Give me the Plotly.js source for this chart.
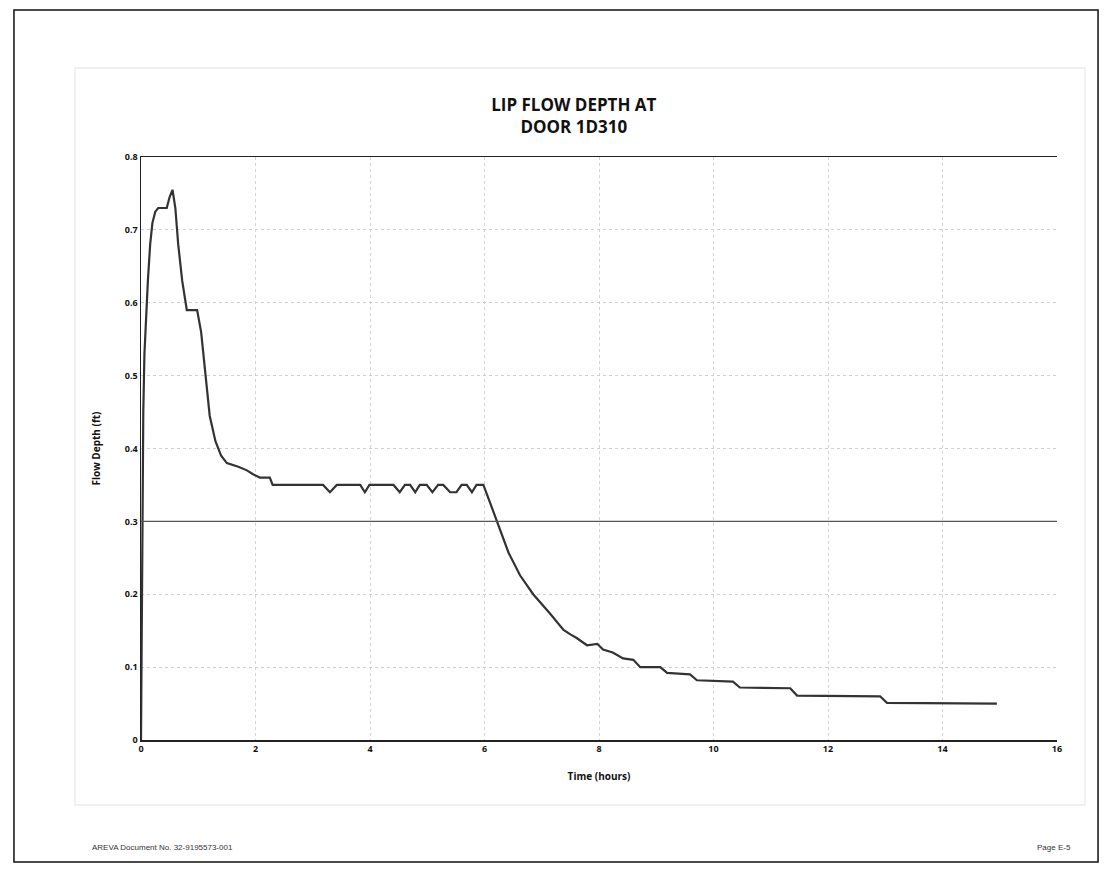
<!DOCTYPE html>
<html>
<head>
<meta charset="utf-8">
<script src="https://cdn.plot.ly/plotly-3.0.1.min.js"></script>
<style>
  html, body { margin: 0; padding: 0; background: #fff; }
  #chart { width: 1112px; height: 872px; }
</style>
</head>
<body>
<div id="chart"></div>
<script>
// Time (hours)
const timeHours = [
  0, 0.02, 0.04, 0.06, 0.09, 0.12, 0.16, 0.2, 0.25, 0.3, 0.45, 0.5, 0.55, 0.6, 0.65, 0.72, 0.8, 0.98,
  1.05, 1.1, 1.15, 1.2, 1.3, 1.4, 1.5, 1.7, 1.85, 1.95, 2.08, 2.25, 2.3,
  3.18, 3.3, 3.42, 3.83, 3.91, 3.99, 4.41, 4.52, 4.61, 4.7, 4.79, 4.87, 4.99, 5.09, 5.19, 5.28, 5.4, 5.51, 5.6, 5.69, 5.78, 5.86, 5.98,
  6.1, 6.22, 6.42, 6.62, 6.85, 7.14, 7.38, 7.5, 7.61, 7.79, 7.97, 8.07, 8.24, 8.42, 8.6, 8.72, 9.07, 9.19, 9.59, 9.71,
  10.34, 10.46, 11.34, 11.46, 12.91, 13.03, 14.95
];
// Flow depth (ft)
const flowDepthFt = [
  0, 0.3, 0.45, 0.53, 0.59, 0.63, 0.68, 0.71, 0.725, 0.73, 0.73, 0.745, 0.755, 0.73, 0.68, 0.63, 0.59, 0.59,
  0.56, 0.52, 0.48, 0.445, 0.41, 0.39, 0.38, 0.375, 0.37, 0.365, 0.36, 0.36, 0.35,
  0.35, 0.34, 0.35, 0.35, 0.34, 0.35, 0.35, 0.34, 0.35, 0.35, 0.34, 0.35, 0.35, 0.34, 0.35, 0.35, 0.34, 0.34, 0.35, 0.35, 0.34, 0.35, 0.35,
  0.325, 0.30, 0.257, 0.226, 0.20, 0.174, 0.151, 0.145, 0.14, 0.13, 0.132, 0.124, 0.12, 0.112, 0.11, 0.1, 0.1, 0.092, 0.09, 0.082,
  0.08, 0.072, 0.071, 0.061, 0.06, 0.051, 0.05
];
const xTickVals = [0, 2, 4, 6, 8, 10, 12, 14, 16];
const yTickVals = [0, 0.1, 0.2, 0.3, 0.4, 0.5, 0.6, 0.7, 0.8];

const tickFont = { family: "Open Sans, Arial, sans-serif", size: 9, color: "#111", weight: 700 };

const trace = {
  x: timeHours,
  y: flowDepthFt,
  type: "scatter",
  mode: "lines",
  line: { color: "#333333", width: 2.2 },
  hoverinfo: "x+y"
};

const layout = {
  width: 1112,
  height: 872,
  paper_bgcolor: "#ffffff",
  plot_bgcolor: "#ffffff",
  showlegend: false,
  margin: { l: 141, r: 55, t: 157, b: 132 },
  title: {
    text: "LIP FLOW DEPTH AT<br>DOOR 1D310",
    font: { family: "Open Sans, Arial, sans-serif", size: 17, color: "#111", weight: 700 },
    xref: "container", x: 0.516, xanchor: "center",
    yref: "container", y: 0.873, yanchor: "middle"
  },
  xaxis: {
    range: [0, 16],
    tickvals: xTickVals,
    ticktext: xTickVals.map(String),
    tickfont: tickFont,
    showgrid: true,
    gridcolor: "#d4d4d4",
    gridwidth: 1,
    griddash: "dot",
    showline: true,
    linecolor: "#222",
    linewidth: 1.5,
    mirror: true,
    zeroline: false,
    ticks: "",
    title: {
      text: "Time (hours)",
      font: { family: "Open Sans, Arial, sans-serif", size: 10, color: "#111", weight: 700 },
      standoff: 18
    }
  },
  yaxis: {
    range: [0, 0.8],
    tickvals: yTickVals,
    ticktext: yTickVals.map(v => v === 0 ? "0" : v.toFixed(1)),
    tickfont: tickFont,
    showgrid: true,
    gridcolor: "#cfcfcf",
    gridwidth: 1,
    griddash: "dot",
    showline: true,
    linecolor: "#222",
    linewidth: 1.5,
    zeroline: false,
    ticks: "",
    title: {
      text: "Flow Depth (ft)",
      font: { family: "Open Sans, Arial, sans-serif", size: 10, color: "#111", weight: 700 },
      standoff: 22
    }
  },
  shapes: [
    // outer page border
    { type: "rect", xref: "paper", yref: "paper", x0: -0.1387, x1: 1.0448, y0: -0.2093, y1: 1.2521,
      line: { color: "#111", width: 1.5 }, layer: "below" },
    // faint chart-area frame
    { type: "rect", xref: "paper", yref: "paper", x0: -0.0721, x1: 1.0306, y0: -0.1115, y1: 1.1527,
      line: { color: "#e2e2e2", width: 1 }, layer: "below" },
    // dark horizontal line at 0.3
    { type: "line", xref: "paper", yref: "y", x0: 0, x1: 1, y0: 0.3, y1: 0.3,
      line: { color: "#555", width: 1.4, dash: "solid" }, layer: "above" }
  ],
  annotations: [
    { text: "AREVA Document No. 32-9195573-001", xref: "paper", yref: "paper",
      x: -0.0557, y: -0.1852, xanchor: "left", yanchor: "middle", showarrow: false,
      font: { family: "Liberation Sans Narrow, Arial Narrow, Arial, sans-serif", size: 8, color: "#333" } },
    { text: "Page E-5", xref: "paper", yref: "paper",
      x: 1.0175, y: -0.1852, xanchor: "right", yanchor: "middle", showarrow: false,
      font: { family: "Liberation Sans Narrow, Arial Narrow, Arial, sans-serif", size: 8, color: "#333" } }
  ]
};

Plotly.newPlot("chart", [trace], layout, { displayModeBar: false, staticPlot: true });
</script>
</body>
</html>
